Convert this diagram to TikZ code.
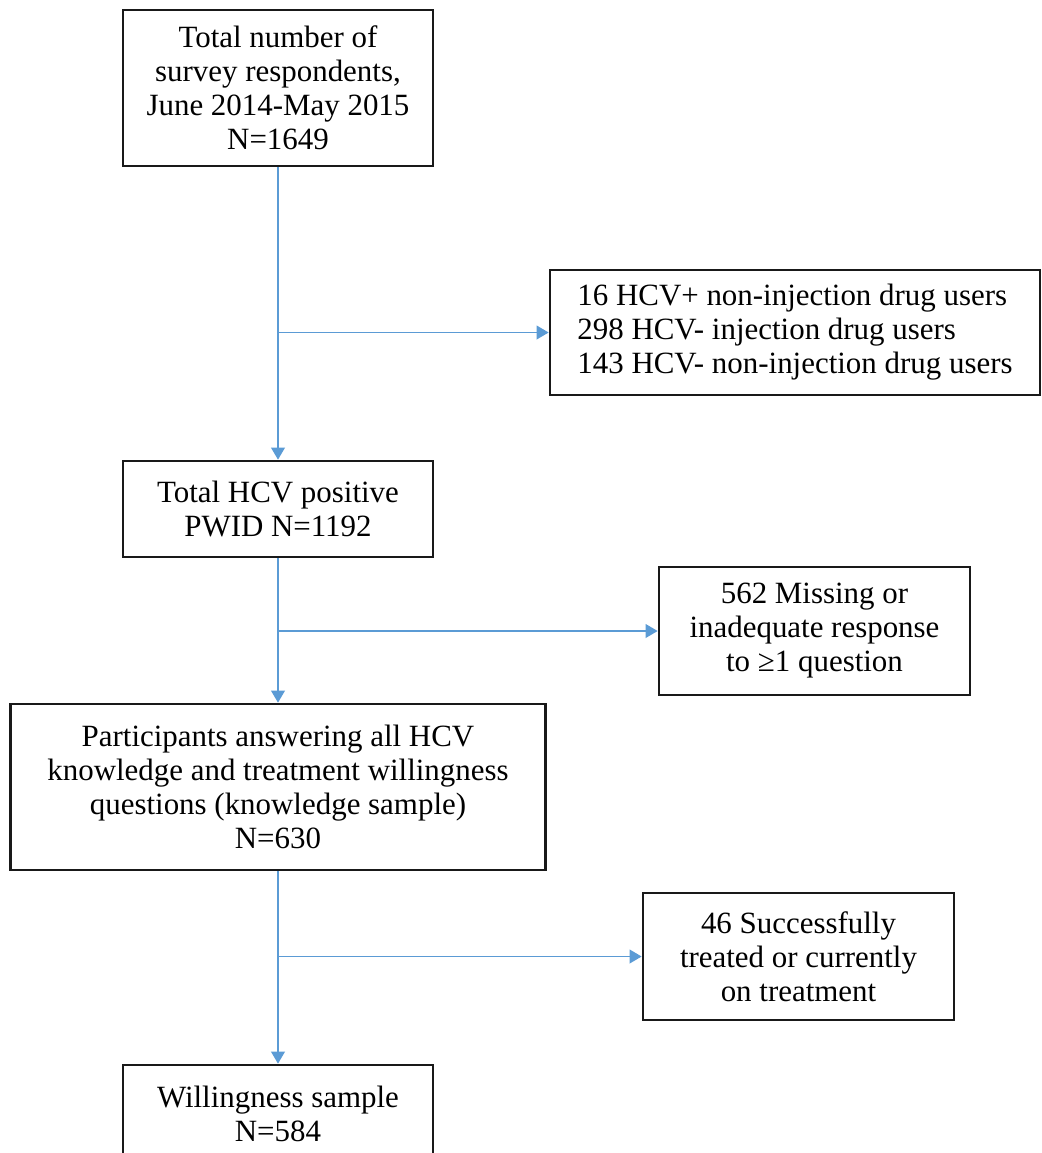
\documentclass[tikz,border=0pt]{standalone}
\usepackage{fontspec}
\setmainfont{Liberation Serif}
\usepackage{xcolor}
\usepackage{tikz}
\usetikzlibrary{
    positioning,
    arrows.meta,
    calc
}
\definecolor{flowblue}{HTML}{5B9BD5}
\tikzset{
    box/.style={
        rectangle, draw=black!90, line width=1.9pt,
        align=center, inner sep=4pt,
        minimum width=7.75cm,
        font=\fontsize{22}{24.2}\selectfont
    },
    flow_arrow/.style={
        -{Triangle[length=0.3cm, width=0.34cm]}, line width=1.3pt, draw=flowblue, fill=flowblue
    }
}

\begin{document}
\begin{tikzpicture}

    \useasboundingbox (0,0) rectangle (26.05,-28.825);

    % main column
    \node[box, minimum height=3.9cm] (respondents) at (6.95,-2.2) {Total number of\\survey respondents,\\June 2014-May 2015\\N=1649};
    \node[box, minimum height=2.4cm] (hcv_pos) at (6.95,-12.725) {Total HCV positive\\PWID N=1192};
    \node[box, minimum width=13.375cm, minimum height=4.15cm] (knowledge_sample) at (6.95,-19.675) {Participants answering all HCV\\knowledge and treatment willingness\\questions (knowledge sample)\\N=630};
    \node[box, minimum height=2.45cm] (willing_sample) at (6.95,-27.85) {Willingness sample\\N=584}; % bottom edge falls just below the page

    % exclusions
    \node[box, align=left, minimum width=12.25cm, minimum height=3.125cm] (excl_users) at (19.875,-8.3125) {16 HCV+ non-injection drug users\\298 HCV- injection drug users\\143 HCV- non-injection drug users};
    \node[box, minimum width=7.775cm, minimum height=3.2cm] (excl_missing) at (20.3625,-15.775) {562 Missing or\\inadequate response\\to ≥1 question};
    \node[box, minimum width=7.775cm, minimum height=3.175cm] (excl_treated) at (19.9625,-23.9125) {46 Successfully\\treated or currently\\on treatment};

    \coordinate (split_users) at (respondents.south |- excl_users.west);
    \coordinate (split_missing) at (hcv_pos.south |- excl_missing.west);
    \coordinate (split_treated) at (knowledge_sample.south |- excl_treated.west);

    \draw[flow_arrow] (respondents.south) -- (hcv_pos.north);
    \draw[flow_arrow] (hcv_pos.south) -- (knowledge_sample.north);
    \draw[flow_arrow] (knowledge_sample.south) -- (willing_sample.north);

    \draw[flow_arrow] (split_users) -- (excl_users.west);
    \draw[flow_arrow] (split_missing) -- (excl_missing.west);
    \draw[flow_arrow] (split_treated) -- (excl_treated.west);

\end{tikzpicture}
\end{document}
